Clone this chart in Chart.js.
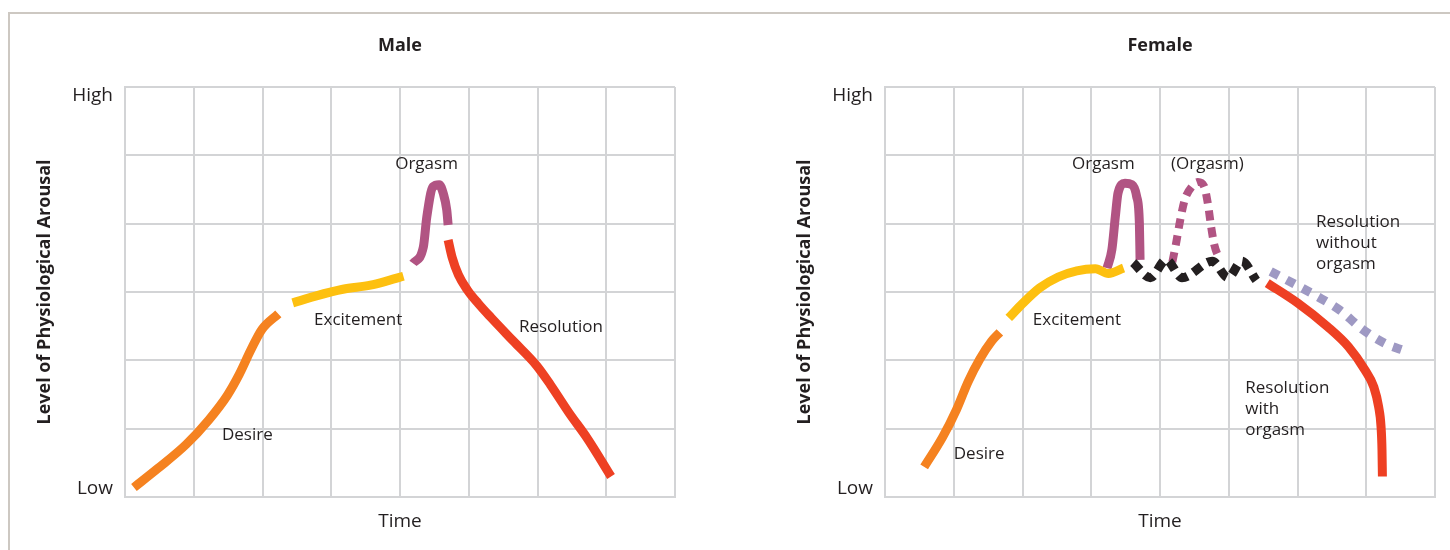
<!DOCTYPE html>
<html>
<head>
<meta charset="utf-8">
<title>Sexual response cycle</title>
<script src="https://cdn.jsdelivr.net/npm/chart.js@4"></script>
<style>
  html, body { margin: 0; padding: 0; background: #fff; width: 1450px; height: 550px; overflow: hidden; }
  .frame { position: absolute; left: 8px; top: 12px; width: 1460px; height: 560px;
           border-top: 2px solid #cdc8c2; border-left: 2px solid #cdc8c2; }
  .panel { position: absolute; top: 0; width: 690px; height: 550px; }
  #malePanel { left: 0; }
  #femalePanel { left: 760px; }
</style>
</head>
<body>
<div class="frame"></div>
<div class="panel" id="malePanel"><canvas id="male" width="690" height="550"></canvas></div>
<div class="panel" id="femalePanel"><canvas id="female" width="690" height="550"></canvas></div>

<script>
// x = time (grid units 0..8), y = arousal (0 = low .. 6 = high)
const yTickLabels = ['Low', 'High'];

// Male curve pieces
const maleDesire = [[0.13,0.14],[0.48,0.42],[0.89,0.77],[1.22,1.13],[1.49,1.49],[1.66,1.79],[1.83,2.15],[1.99,2.45],[2.23,2.68]];
const maleExcitement = [[2.44,2.84],[2.77,2.94],[3.17,3.04],[3.57,3.10],[3.84,3.17],[4.05,3.23]];
const maleOrgasm = [[4.19,3.42],[4.34,3.66],[4.39,4.10],[4.48,4.54],[4.57,4.57],[4.63,4.44],[4.68,4.20],[4.70,3.98]];
const maleResolution = [[4.70,3.76],[4.76,3.50],[4.85,3.25],[4.98,3.03],[5.14,2.83],[5.32,2.63],[5.65,2.28],[5.99,1.92],[6.19,1.64],[6.46,1.23],[6.73,0.85],[7.07,0.30]];

// Female curve pieces
const femaleDesire = [[0.57,0.44],[0.84,0.88],[1.04,1.28],[1.21,1.69],[1.38,2.02],[1.55,2.28],[1.67,2.41]];
const femaleExcitement = [[1.80,2.62],[1.98,2.81],[2.25,3.06],[2.52,3.22],[2.79,3.31],[3.06,3.34],[3.25,3.27],[3.47,3.35]];
const femaleOrgasm = [[3.23,3.35],[3.30,3.62],[3.35,4.10],[3.39,4.45],[3.49,4.59],[3.59,4.57],[3.66,4.40],[3.70,4.01],[3.71,3.47]];
const femalePlateau = [[3.61,3.43],[3.86,3.21],[4.09,3.47],[4.32,3.21],[4.76,3.45],[4.99,3.21],[5.19,3.45],[5.40,3.17]];
const femaleSecondOrgasm = [[4.18,3.44],[4.23,3.69],[4.29,4.03],[4.36,4.35],[4.47,4.55],[4.55,4.61],[4.64,4.55],[4.70,4.27],[4.74,3.98],[4.79,3.69],[4.87,3.47]];
const femaleResolutionWith = [[5.56,3.13],[6.00,2.84],[6.44,2.49],[6.74,2.20],[6.98,1.86],[7.11,1.61],[7.18,1.32],[7.215,1.03],[7.229,0.69],[7.235,0.30]];
const femaleResolutionWithout = [[5.61,3.30],[5.95,3.12],[6.28,2.94],[6.62,2.73],[6.95,2.45],[7.29,2.24],[7.56,2.14]];

// phase labels (x, y of first line in data units)
const maleLabels = [
  { lines: ['Desire'], at: [1.41, 0.91] },
  { lines: ['Excitement'], at: [2.75, 2.59] },
  { lines: ['Orgasm'], at: [3.93, 4.87] },
  { lines: ['Resolution'], at: [5.73, 2.49] }
];
const femaleLabels = [
  { lines: ['Desire'], at: [1.00, 0.63] },
  { lines: ['Excitement'], at: [2.15, 2.59] },
  { lines: ['Orgasm'], at: [2.72, 4.87] },
  { lines: ['(Orgasm)'], at: [4.16, 4.87] },
  { lines: ['Resolution', 'without', 'orgasm'], at: [6.27, 4.02] },
  { lines: ['Resolution', 'with', 'orgasm'], at: [5.24, 1.60] }
];

const ORANGE = '#f58220';
const YELLOW = '#fdc010';
const PURPLE = '#b15483';
const RED = '#ee4023';
const BLACK = '#231f20';
const LAVENDER = '#9e99c3';
const GRID = '#d3d4d6';
const TEXT = '#231f20';
const FONT = '"Open Sans", sans-serif';

// draws the panel title and the phase labels
const annotate = {
  id: 'annotate',
  afterDatasetsDraw(chart, args, opts) {
    const { ctx, chartArea, scales } = chart;
    ctx.save();
    ctx.fillStyle = TEXT;
    ctx.textBaseline = 'middle';
    ctx.textAlign = 'center';
    ctx.font = 'bold 18px ' + FONT;
    ctx.fillText(opts.title, (chartArea.left + chartArea.right) / 2, 46);
    ctx.textAlign = 'left';
    ctx.font = '17px ' + FONT;
    opts.labels.forEach(l => {
      const px = scales.x.getPixelForValue(l.at[0]);
      const py = scales.y.getPixelForValue(l.at[1]);
      l.lines.forEach((t, i) => ctx.fillText(t, px, py + i * 21));
    });
    ctx.restore();
  }
};

function makeChart(id, title, series, labels) {
  new Chart(document.getElementById(id), {
    type: 'line',
    data: {
      datasets: series.map(s => ({
        data: s.points.map(p => ({ x: p[0], y: p[1] })),
        borderColor: s.color,
        borderWidth: s.width || 9,
        borderDash: s.dash || [],
        borderCapStyle: 'butt',
        borderJoinStyle: 'round',
        pointRadius: 0,
        cubicInterpolationMode: 'monotone',
        fill: false
      }))
    },
    plugins: [annotate],
    options: {
      responsive: false,
      animation: false,
      devicePixelRatio: 1,
      layout: { padding: { left: 0, right: 15, top: 87, bottom: 0 } },
      plugins: {
        legend: { display: false },
        tooltip: { enabled: false },
        annotate: { title: title, labels: labels }
      },
      scales: {
        x: {
          type: 'linear', min: 0, max: 8,
          ticks: { display: false, stepSize: 1 },
          grid: { color: GRID, lineWidth: 2, drawTicks: false },
          border: { color: GRID, width: 2 },
          title: { display: true, text: 'Time', color: TEXT, font: { family: FONT, size: 19 }, padding: { top: 0, bottom: 17 } },
          afterFit: s => { s.height = 53; }
        },
        y: {
          min: 0, max: 6,
          ticks: { display: false, stepSize: 1 },
          grid: { color: GRID, lineWidth: 2, drawTicks: false },
          border: { color: GRID, width: 2 },
          afterFit: s => { s.width = 0; }
        },
        yl: {
          position: 'left', weight: 1, min: 0, max: 6,
          grid: { display: false, drawTicks: false },
          border: { display: false },
          afterBuildTicks: s => { s.ticks = [{ value: 0.117 }, { value: 5.87 }]; },
          ticks: {
            padding: 12, color: TEXT, font: { family: FONT, size: 19 },
            callback: v => v > 3 ? yTickLabels[1] : yTickLabels[0]
          },
          title: {
            display: true, text: 'Level of Physiological Arousal', color: TEXT,
            font: { family: FONT, size: 18, weight: 'bold' }, padding: { top: 34, bottom: 0 }
          },
          afterFit: s => { s.width = 125; }
        }
      }
    }
  });
}

makeChart('male', 'Male', [
  { points: maleDesire, color: ORANGE },
  { points: maleExcitement, color: YELLOW },
  { points: maleOrgasm, color: PURPLE },
  { points: maleResolution, color: RED }
], maleLabels);

makeChart('female', 'Female', [
  { points: femalePlateau, color: BLACK, dash: [10, 7] },
  { points: femaleSecondOrgasm, color: PURPLE, dash: [10, 7], width: 8 },
  { points: femaleDesire, color: ORANGE },
  { points: femaleExcitement, color: YELLOW },
  { points: femaleOrgasm, color: PURPLE },
  { points: femaleResolutionWith, color: RED },
  { points: femaleResolutionWithout, color: LAVENDER, dash: [9, 9] }
], femaleLabels);
</script>
</body>
</html>
